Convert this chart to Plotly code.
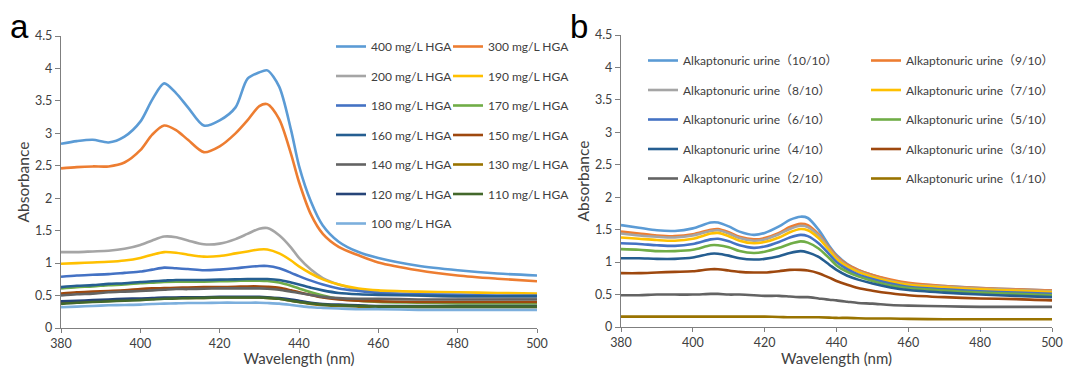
import plotly.graph_objects as go

# ---------------- Panel a data ----------------
wl_a = [380, 384, 388, 392, 396, 400, 403, 406, 409, 412, 416, 420, 424, 427, 430, 432,
        435, 438, 440, 443, 446, 450, 455, 460, 470, 480, 490, 500]

hga_400 = [2.84, 2.88, 2.90, 2.86, 2.95, 3.18, 3.52, 3.77, 3.62, 3.40, 3.12, 3.20, 3.40, 3.84, 3.94, 3.97,
           3.72, 3.05, 2.50, 1.95, 1.58, 1.33, 1.17, 1.08, 0.96, 0.89, 0.84, 0.81]
hga_300 = [2.46, 2.48, 2.49, 2.49, 2.55, 2.74, 2.98, 3.12, 3.05, 2.90, 2.71, 2.80, 3.00, 3.20, 3.42, 3.45,
           3.22, 2.68, 2.25, 1.75, 1.45, 1.25, 1.12, 1.01, 0.89, 0.81, 0.76, 0.72]
hga_200 = [1.17, 1.17, 1.18, 1.19, 1.22, 1.28, 1.35, 1.41, 1.40, 1.35, 1.29, 1.30, 1.37, 1.45, 1.53, 1.54,
           1.43, 1.24, 1.08, 0.90, 0.77, 0.67, 0.59, 0.55, 0.50, 0.48, 0.47, 0.46]
hga_190 = [0.99, 1.00, 1.01, 1.02, 1.04, 1.08, 1.13, 1.17, 1.16, 1.13, 1.10, 1.11, 1.15, 1.18, 1.21, 1.21,
           1.15, 1.04, 0.95, 0.84, 0.75, 0.67, 0.61, 0.58, 0.56, 0.55, 0.54, 0.53]
hga_180 = [0.79, 0.81, 0.82, 0.83, 0.85, 0.87, 0.90, 0.93, 0.92, 0.91, 0.89, 0.90, 0.92, 0.94, 0.955, 0.955,
           0.92, 0.85, 0.80, 0.73, 0.67, 0.61, 0.57, 0.54, 0.52, 0.51, 0.50, 0.50]
hga_170 = [0.61, 0.63, 0.64, 0.66, 0.67, 0.69, 0.70, 0.71, 0.715, 0.715, 0.715, 0.72, 0.725, 0.73, 0.73, 0.725,
           0.70, 0.65, 0.61, 0.55, 0.50, 0.45, 0.42, 0.40, 0.39, 0.38, 0.38, 0.38]
hga_160 = [0.63, 0.65, 0.66, 0.68, 0.69, 0.71, 0.72, 0.73, 0.74, 0.74, 0.74, 0.745, 0.75, 0.755, 0.755, 0.755,
           0.74, 0.70, 0.67, 0.62, 0.58, 0.54, 0.52, 0.51, 0.50, 0.49, 0.49, 0.49]
hga_150 = [0.53, 0.55, 0.56, 0.57, 0.58, 0.60, 0.61, 0.615, 0.62, 0.625, 0.63, 0.63, 0.635, 0.64, 0.64, 0.635,
           0.62, 0.58, 0.55, 0.51, 0.47, 0.44, 0.42, 0.41, 0.40, 0.40, 0.40, 0.40]
hga_140 = [0.50, 0.52, 0.53, 0.55, 0.56, 0.57, 0.58, 0.59, 0.60, 0.60, 0.605, 0.61, 0.61, 0.61, 0.61, 0.605,
           0.59, 0.56, 0.54, 0.51, 0.48, 0.46, 0.45, 0.45, 0.44, 0.44, 0.44, 0.44]
hga_130 = [0.39, 0.40, 0.41, 0.42, 0.43, 0.44, 0.45, 0.455, 0.46, 0.465, 0.465, 0.47, 0.47, 0.47, 0.47, 0.465,
           0.45, 0.42, 0.40, 0.37, 0.35, 0.34, 0.33, 0.33, 0.32, 0.32, 0.32, 0.32]
hga_120 = [0.41, 0.42, 0.43, 0.44, 0.45, 0.455, 0.46, 0.47, 0.47, 0.475, 0.475, 0.48, 0.48, 0.48, 0.48, 0.475,
           0.46, 0.44, 0.42, 0.39, 0.37, 0.36, 0.35, 0.34, 0.34, 0.34, 0.34, 0.34]
hga_110 = [0.37, 0.39, 0.40, 0.41, 0.42, 0.43, 0.44, 0.45, 0.455, 0.46, 0.465, 0.47, 0.47, 0.47, 0.47, 0.465,
           0.45, 0.42, 0.40, 0.38, 0.36, 0.35, 0.34, 0.33, 0.33, 0.33, 0.33, 0.33]
hga_100 = [0.32, 0.33, 0.34, 0.35, 0.355, 0.36, 0.37, 0.375, 0.38, 0.385, 0.385, 0.39, 0.39, 0.39, 0.39, 0.385,
           0.375, 0.355, 0.34, 0.32, 0.31, 0.30, 0.29, 0.29, 0.28, 0.28, 0.28, 0.28]

names_a = ["400 mg/L HGA", "300 mg/L HGA", "200 mg/L HGA", "190 mg/L HGA", "180 mg/L HGA",
           "170 mg/L HGA", "160 mg/L HGA", "150 mg/L HGA", "140 mg/L HGA", "130 mg/L HGA",
           "120 mg/L HGA", "110 mg/L HGA", "100 mg/L HGA"]
values_a = [hga_400, hga_300, hga_200, hga_190, hga_180, hga_170, hga_160, hga_150,
            hga_140, hga_130, hga_120, hga_110, hga_100]

# ---------------- Panel b data ----------------
wl_b = [380, 385, 390, 395, 400, 405, 407, 410, 413, 417, 420, 424, 427, 430, 432, 435,
        438, 440, 443, 446, 450, 455, 460, 470, 480, 490, 500]

urine_10 = [1.57, 1.53, 1.49, 1.48, 1.52, 1.61, 1.61, 1.55, 1.47, 1.42, 1.45, 1.55, 1.65, 1.70, 1.68, 1.50,
            1.25, 1.11, 0.97, 0.88, 0.80, 0.72, 0.67, 0.63, 0.60, 0.58, 0.56]
urine_9 = [1.47, 1.44, 1.41, 1.40, 1.43, 1.50, 1.51, 1.46, 1.39, 1.35, 1.37, 1.45, 1.54, 1.59, 1.57, 1.43,
           1.22, 1.09, 0.96, 0.88, 0.80, 0.73, 0.68, 0.63, 0.60, 0.58, 0.56]
urine_8 = [1.44, 1.41, 1.39, 1.38, 1.41, 1.48, 1.49, 1.44, 1.37, 1.33, 1.35, 1.43, 1.51, 1.56, 1.54, 1.41,
           1.20, 1.07, 0.94, 0.86, 0.78, 0.71, 0.66, 0.62, 0.59, 0.57, 0.55]
urine_7 = [1.38, 1.36, 1.34, 1.33, 1.36, 1.44, 1.45, 1.40, 1.33, 1.29, 1.31, 1.38, 1.46, 1.51, 1.49, 1.37,
           1.18, 1.05, 0.93, 0.85, 0.77, 0.70, 0.65, 0.61, 0.58, 0.56, 0.54]
urine_6 = [1.29, 1.28, 1.26, 1.25, 1.28, 1.35, 1.36, 1.32, 1.26, 1.22, 1.24, 1.31, 1.38, 1.42, 1.40, 1.29,
           1.12, 1.00, 0.89, 0.81, 0.74, 0.67, 0.62, 0.58, 0.55, 0.53, 0.51]
urine_5 = [1.20, 1.19, 1.17, 1.17, 1.19, 1.26, 1.26, 1.23, 1.17, 1.14, 1.16, 1.22, 1.28, 1.32, 1.30, 1.21,
           1.06, 0.95, 0.85, 0.78, 0.71, 0.64, 0.60, 0.56, 0.53, 0.51, 0.49]
urine_4 = [1.06, 1.06, 1.05, 1.05, 1.07, 1.13, 1.13, 1.10, 1.06, 1.04, 1.05, 1.09, 1.14, 1.17, 1.15, 1.08,
           0.96, 0.88, 0.79, 0.73, 0.67, 0.61, 0.57, 0.53, 0.50, 0.48, 0.46]
urine_3 = [0.83, 0.83, 0.84, 0.85, 0.86, 0.89, 0.89, 0.87, 0.85, 0.84, 0.84, 0.86, 0.88, 0.88, 0.87, 0.83,
           0.76, 0.71, 0.65, 0.60, 0.56, 0.52, 0.49, 0.46, 0.44, 0.43, 0.41]
urine_2 = [0.49, 0.49, 0.50, 0.50, 0.50, 0.51, 0.51, 0.50, 0.50, 0.49, 0.48, 0.48, 0.47, 0.46, 0.46, 0.44,
           0.42, 0.41, 0.39, 0.37, 0.36, 0.34, 0.33, 0.32, 0.31, 0.31, 0.31]
urine_1 = [0.16, 0.16, 0.16, 0.16, 0.16, 0.16, 0.16, 0.16, 0.16, 0.16, 0.16, 0.155, 0.15, 0.15, 0.15, 0.15,
           0.145, 0.14, 0.14, 0.135, 0.13, 0.13, 0.125, 0.12, 0.12, 0.12, 0.12]

names_b = ["Alkaptonuric urine（10/10）", "Alkaptonuric urine（9/10）", "Alkaptonuric urine（8/10）",
           "Alkaptonuric urine（7/10）", "Alkaptonuric urine（6/10）", "Alkaptonuric urine（5/10）",
           "Alkaptonuric urine（4/10）", "Alkaptonuric urine（3/10）", "Alkaptonuric urine（2/10）",
           "Alkaptonuric urine（1/10）"]
values_b = [urine_10, urine_9, urine_8, urine_7, urine_6, urine_5, urine_4, urine_3, urine_2, urine_1]

# ---------------- styles ----------------
colors_a = ["#5b9bd5", "#ed7d31", "#a5a5a5", "#ffc000", "#4472c4", "#70ad47",
            "#255e91", "#9e480e", "#636363", "#997300", "#264478", "#43682b", "#7cafdd"]
colors_b = ["#5b9bd5", "#ed7d31", "#a5a5a5", "#ffc000", "#4472c4", "#70ad47",
            "#255e91", "#9e480e", "#636363", "#997300"]

FONT = "Lato, 'Noto Sans CJK SC', sans-serif"
AXIS_COLOR = "#7f7f7f"
TEXT_COLOR = "#404040"

fig = go.Figure()

for i, (nm, ys, col) in enumerate(zip(names_a, values_a, colors_a)):
    fig.add_trace(go.Scatter(
        x=wl_a, y=ys, name=nm, mode="lines",
        line=dict(color=col, width=2.6, shape="spline", smoothing=0.8),
        xaxis="x", yaxis="y", legendgroup=nm,
        legend="legend" if i % 2 == 0 else "legend2"))

for i, (nm, ys, col) in enumerate(zip(names_b, values_b, colors_b)):
    fig.add_trace(go.Scatter(
        x=wl_b, y=ys, name=nm, mode="lines",
        line=dict(color=col, width=2.6, shape="spline", smoothing=0.8),
        xaxis="x2", yaxis="y2", legendgroup=nm,
        legend="legend3" if i % 2 == 0 else "legend4"))

W, H = 1069, 367


def px_x(p):
    return p / W


def px_y(p):
    return 1 - p / H


common_x = dict(range=[380, 500], tick0=380, dtick=20, ticks="outside", ticklen=4,
                tickcolor=AXIS_COLOR, showline=True, linecolor=AXIS_COLOR, linewidth=1.3,
                showgrid=False, zeroline=False, automargin=False,
                tickfont=dict(family=FONT, size=12.5, color=TEXT_COLOR),
                title=dict(text="Wavelength (nm)", font=dict(family=FONT, size=15, color=TEXT_COLOR),
                           standoff=5))
common_y = dict(range=[0, 4.5], tick0=0, dtick=0.5, ticks="outside", ticklen=5,
                tickcolor=AXIS_COLOR, showline=True, linecolor=AXIS_COLOR, linewidth=1.3,
                showgrid=False, zeroline=False, automargin=False,
                tickfont=dict(family=FONT, size=12.5, color=TEXT_COLOR),
                title=dict(text="Absorbance", font=dict(family=FONT, size=15.5, color=TEXT_COLOR),
                           standoff=1))

leg_common = dict(xanchor="left", yanchor="top", bgcolor="rgba(0,0,0,0)", borderwidth=0,
                  traceorder="grouped", itemwidth=30,
                  font=dict(family=FONT, size=12, color=TEXT_COLOR))

fig.update_layout(
    width=W, height=H, margin=dict(l=0, r=0, t=0, b=0, autoexpand=False),
    paper_bgcolor="white", plot_bgcolor="white",
    showlegend=True,
    xaxis=dict(domain=[px_x(61), px_x(537)], anchor="y", **common_x),
    yaxis=dict(domain=[px_y(328), px_y(36)], anchor="x", **common_y),
    xaxis2=dict(domain=[px_x(621), px_x(1052)], anchor="y2", **common_x),
    yaxis2=dict(domain=[px_y(327), px_y(35)], anchor="x2", **common_y),
    legend=dict(x=px_x(331), y=px_y(32), tracegroupgap=10.5, **leg_common),
    legend2=dict(x=px_x(448), y=px_y(32), tracegroupgap=10.5, **leg_common),
    legend3=dict(x=px_x(643), y=px_y(46), tracegroupgap=10.5, **leg_common),
    legend4=dict(x=px_x(866), y=px_y(46), tracegroupgap=10.5, **leg_common),
    annotations=[
        dict(text="a", x=px_x(8), y=px_y(6), xref="paper", yref="paper", showarrow=False,
             xanchor="left", yanchor="top",
             font=dict(family="Liberation Sans, Arial", size=33, color="black")),
        dict(text="b", x=px_x(568), y=px_y(6), xref="paper", yref="paper", showarrow=False,
             xanchor="left", yanchor="top",
             font=dict(family="Liberation Sans, Arial", size=33, color="black")),
    ],
)

fig.write_html("out.html", config={"displayModeBar": False},
               post_script="document.body.style.margin='0px';")
